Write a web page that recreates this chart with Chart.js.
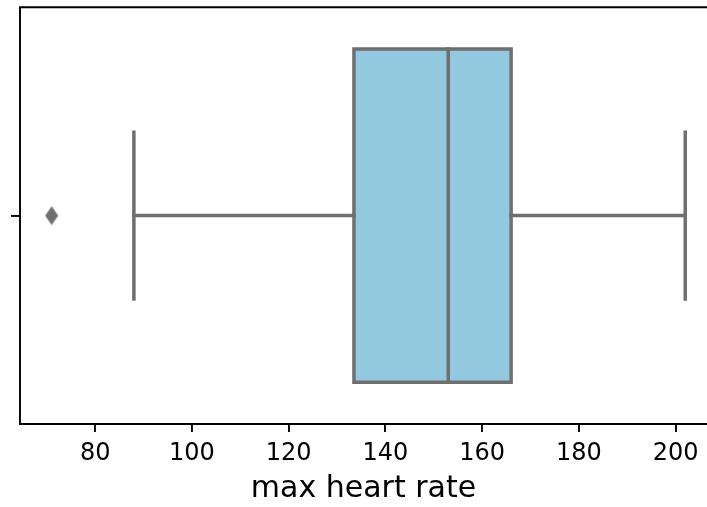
<!DOCTYPE html>
<html>
<head>
<meta charset="utf-8">
<script src="https://cdn.jsdelivr.net/npm/chart.js@4/dist/chart.umd.min.js"></script>
<style>
  html, body { margin: 0; padding: 0; overflow: hidden; background: #ffffff; }
  #wrap { width: 707px; height: 507px; }
  canvas { display: block; }
</style>
</head>
<body>
<div id="wrap"><canvas id="c" width="707" height="507"></canvas></div>
<script>
// Summary of the "max heart rate" distribution (horizontal box plot)
const variableName = 'max heart rate';
const quartiles = [133.5, 153, 166];   // Q1, median, Q3
const whiskerEnds = [88, 202];         // lower / upper whisker
const outliers = [71];                 // points beyond the whiskers
const xTickValues = [80, 100, 120, 140, 160, 180, 200];

// styling
const BOX_HALF = 0.4;     // half box thickness (y units, band spans -0.5..0.5)
const CAP_HALF = 0.2;     // half whisker-cap length
const boxFill = '#93c9de';
const lineGray = '#6f6f6f';
const LW = 3.5;

const [q1, med, q3] = quartiles;
const [wLo, wHi] = whiskerEnds;

// x limits: 5% margin below the data; the plot runs past the right edge
const allVals = [wLo, wHi, ...outliers];
const dMin = Math.min(...allVals), dMax = Math.max(...allVals);
const xMin = dMin - 0.05 * (dMax - dMin);
const xMaxVisible = 206.5;

// thin diamond marker for outliers
function diamondMarker(w, h, color) {
  const c = document.createElement('canvas');
  c.width = w; c.height = h;
  const g = c.getContext('2d');
  g.fillStyle = color;
  g.beginPath();
  g.moveTo(w / 2, 0.5);
  g.lineTo(w - 0.5, h / 2);
  g.lineTo(w / 2, h - 0.5);
  g.lineTo(0.5, h / 2);
  g.closePath();
  g.fill();
  return c;
}

const seg = (pts) => ({
  type: 'line',
  data: pts.map(([x, y]) => ({ x, y })),
  borderColor: lineGray,
  borderWidth: LW,
  borderCapStyle: 'square',
  borderJoinStyle: 'miter',
  pointRadius: 0,
  fill: false,
  tension: 0,
  order: 1
});

const datasets = [
  // box body
  {
    type: 'line',
    data: [{ x: q1, y: -BOX_HALF }, { x: q3, y: -BOX_HALF }],
    fill: { value: BOX_HALF },
    backgroundColor: boxFill,
    borderWidth: 0,
    pointRadius: 0,
    order: 3
  },
  // box outline
  seg([[q1, -BOX_HALF], [q3, -BOX_HALF], [q3, BOX_HALF], [q1, BOX_HALF], [q1, -BOX_HALF]]),
  // median
  seg([[med, -BOX_HALF], [med, BOX_HALF]]),
  // whiskers
  seg([[wLo, 0], [q1, 0]]),
  seg([[q3, 0], [wHi, 0]]),
  // caps
  seg([[wLo, -CAP_HALF], [wLo, CAP_HALF]]),
  seg([[wHi, -CAP_HALF], [wHi, CAP_HALF]]),
  // outliers
  {
    type: 'line',
    data: outliers.map(v => ({ x: v, y: 0 })),
    showLine: false,
    pointStyle: diamondMarker(14, 20, lineGray),
    pointRadius: 6,
    order: 0
  }
];

// axes frame (left, top, bottom) drawn on top of the marks
const framePlugin = {
  id: 'frame',
  afterDatasetsDraw(chart) {
    const { ctx, chartArea: a } = chart;
    ctx.save();
    ctx.strokeStyle = '#000';
    ctx.lineWidth = 1.9;
    ctx.lineCap = 'square';
    ctx.beginPath();
    ctx.moveTo(a.right + 4, a.top);
    ctx.lineTo(a.left, a.top);
    ctx.lineTo(a.left, a.bottom);
    ctx.lineTo(a.right + 4, a.bottom);
    ctx.stroke();
    ctx.restore();
  }
};

Chart.defaults.font.family = "'DejaVu Sans', sans-serif";

new Chart(document.getElementById('c'), {
  type: 'line',
  data: { datasets },
  options: {
    responsive: false,
    animation: false,
    events: [],
    layout: { autoPadding: false, padding: { top: 7, right: 0, bottom: 0, left: 0 } },
    plugins: { legend: { display: false }, tooltip: { enabled: false } },
    scales: {
      x: {
        type: 'linear',
        min: xMin,
        max: xMaxVisible,
        afterBuildTicks: (s) => { s.ticks = xTickValues.map(v => ({ value: v })); },
        afterFit: (s) => { s.height = 83; s.paddingLeft = 0; s.paddingRight = 0; },
        border: { display: false },
        grid: {
          drawOnChartArea: false,
          drawTicks: true,
          tickLength: 8,
          tickWidth: 1.9,
          tickColor: '#000',
          lineWidth: 1.9,
          color: '#000'
        },
        ticks: { padding: 7, color: '#000', font: { size: 24 }, maxRotation: 0, callback: (v) => String(v) },
        title: { display: true, text: variableName, color: '#000', font: { size: 30 }, padding: { top: 0, bottom: 0 } }
      },
      y: {
        type: 'linear',
        min: -0.5,
        max: 0.5,
        afterBuildTicks: (s) => { s.ticks = [{ value: 0 }]; },
        afterFit: (s) => { s.width = 20; },
        border: { display: false },
        grid: {
          drawOnChartArea: false,
          drawTicks: true,
          tickLength: 9,
          tickWidth: 1.9,
          tickColor: '#000',
          lineWidth: 1.9,
          color: '#000'
        },
        ticks: { callback: () => '', padding: 0 }
      }
    }
  },
  plugins: [framePlugin]
});
</script>
</body>
</html>
